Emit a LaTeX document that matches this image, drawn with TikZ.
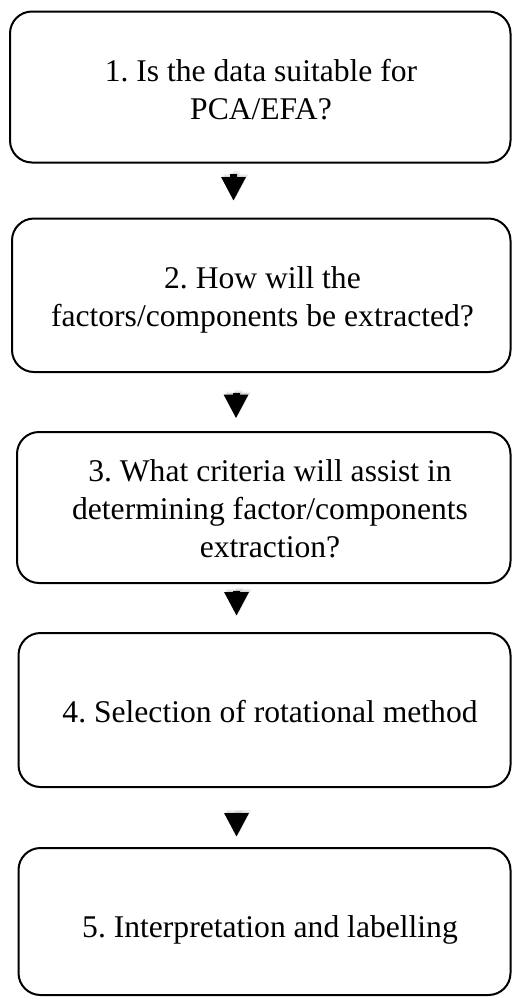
\documentclass[tikz,border=0pt]{standalone}
\usepackage{fontspec}
\setmainfont{Liberation Serif}
\usetikzlibrary{arrows.meta}
\frenchspacing

\tikzset{
  stepbox/.style={draw=black, line width=2pt, rounded corners=22pt,
    rectangle, inner sep=0pt, fill=white},
  steptext/.style={anchor=north, align=center, inner sep=0pt,
    font=\fontsize{31.6}{38}\selectfont\frenchspacing},
  flowarrow/.style={line width=7pt, draw=black,
    -{Triangle[width=23pt,length=24pt]}},
  arrowshade/.style={line width=7pt, draw=black!60, opacity=#1,
    -{Triangle[width=23pt,length=24pt]}},
}

\begin{document}
\begin{tikzpicture}[x=1pt,y=-1pt]
  \useasboundingbox (0,0) rectangle (512,997);

  % step boxes
  \node[stepbox, minimum width=500.5pt, minimum height=151pt]   (b1) at (260.25,87)   {};
  \node[stepbox, minimum width=498.5pt, minimum height=153.5pt] (b2) at (261.25,295.25) {};
  \node[stepbox, minimum width=493.5pt, minimum height=151pt]   (b3) at (263.75,507.5) {};
  \node[stepbox, minimum width=492pt,   minimum height=154pt]   (b4) at (264.5,710)   {};
  \node[stepbox, minimum width=492pt,   minimum height=147pt]   (b5) at (264.5,921.5) {};

  % step texts
  \node[steptext] (t1) at (261,55.1)   {\strut 1. Is the data suitable for\\\strut PCA/EFA?};
  \node[steptext] (t2) at (262.5,261.4) {\strut 2. How will the\\\strut factors/components be extracted?};
  \node[steptext] (t3) at (270,455.1)  {\strut 3. What criteria will assist in\\\strut determining factor/components\\\strut extraction?};
  \node[steptext] (t4) at (270,695.4)  {\strut 4. Selection of rotational method};
  \node[steptext] (t5) at (270,910.4)  {\strut 5. Interpretation and labelling};

  % connectors between the steps, each with a soft shade
  \foreach \a/\b/\dx/\s/\e in {b1/b2/-26.75/10.5/16.5, b2/b3/-25.25/20/12.5,
                               b3/b4/-27.25/7/16, b4/b5/-28/25/10} {
    \draw[arrowshade=0.10, shorten <=\s pt, shorten >=\e pt]
      ([shift={(\dx pt+2.5pt,3pt)}]\a.south) -- ([shift={(\dx pt+2.5pt,3pt)}]\a.south |- \b.north);
    \draw[arrowshade=0.18, shorten <=\s pt, shorten >=\e pt]
      ([shift={(\dx pt+1.2pt,1.5pt)}]\a.south) -- ([shift={(\dx pt+1.2pt,1.5pt)}]\a.south |- \b.north);
    \draw[flowarrow, shorten <=\s pt, shorten >=\e pt]
      ([xshift=\dx pt]\a.south) -- ([xshift=\dx pt]\a.south |- \b.north);
  }
\end{tikzpicture}
\end{document}
